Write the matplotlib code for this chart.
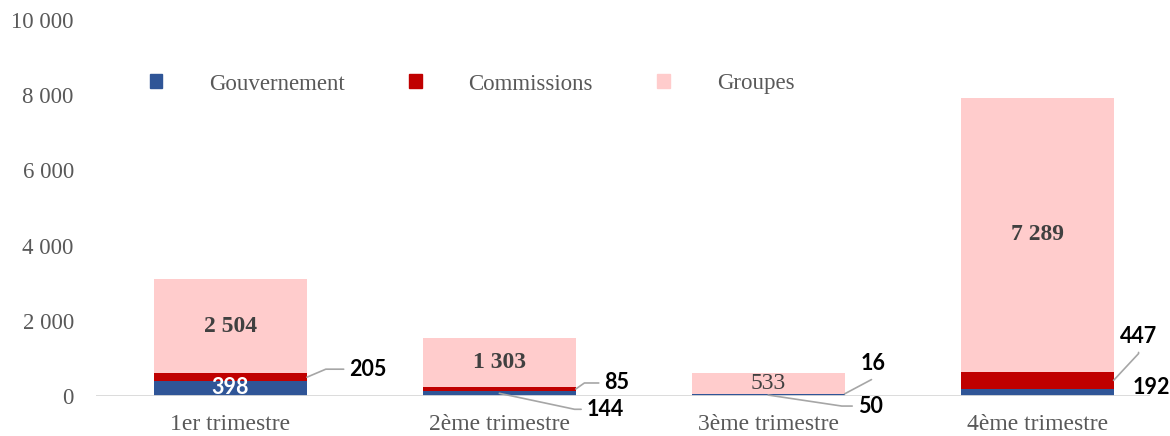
import matplotlib.pyplot as plt
from matplotlib.patches import Patch

categories = ["1er trimestre", "2ème trimestre", "3ème trimestre", "4ème trimestre"]
gouvernement = [398, 144, 50, 192]
commissions = [205, 85, 16, 447]
groupes = [2504, 1303, 533, 7289]
yticks = [0, 2000, 4000, 6000, 8000, 10000]

c_gouv = "#2F5597"
c_comm = "#C00000"
c_grp = "#FFCCCC"
serif = "Liberation Serif"
sans = "Lato"


def fmt(v):
    return f"{v:,}".replace(",", " ")


fig = plt.figure(figsize=(11.7, 4.36), dpi=100)
ax = fig.add_axes([96 / 1170, 40 / 436, (1150 - 96) / 1170, 376 / 436])

x = list(range(len(categories)))
w = 0.569
base2 = [a + b for a, b in zip(gouvernement, commissions)]
ax.bar(x, gouvernement, w, color=c_gouv, zorder=2)
ax.bar(x, commissions, w, bottom=gouvernement, color=c_comm, zorder=2)
ax.bar(x, groupes, w, bottom=base2, color=c_grp, zorder=2)

ax.set_xlim(-0.5, 3.42)
ax.set_ylim(0, 10000)
for s in ["top", "right", "left", "bottom"]:
    ax.spines[s].set_visible(False)
ax.axhline(0, color="#D9D9D9", lw=1.3, zorder=3)
ax.set_yticks(yticks)
ax.set_yticklabels([fmt(v) for v in yticks], fontfamily=serif, fontsize=16.5, color="#595959")
ax.set_xticks(x)
ax.set_xticklabels(categories, fontfamily=serif, fontsize=17, color="#595959")
ax.tick_params(length=0, axis="y", pad=16)
ax.tick_params(length=0, axis="x", pad=13)

# labels for Groupes inside the bars
for i, v in enumerate(groupes):
    ax.text(i, base2[i] + v / 2, fmt(v), ha="center", va="center", fontfamily=serif,
            fontsize=17, fontweight="normal" if v < 1000 else "bold", color="#404040", zorder=4)

# 398 inside blue bar
ax.text(0, gouvernement[0] / 2 + 20, fmt(gouvernement[0]), ha="center", va="center",
        fontfamily=sans, fontsize=15.5, fontweight="bold", color="white", zorder=2.5)

lead = dict(arrowstyle="-", color="#A6A6A6", lw=1.2, shrinkB=0)

# (text, xy, offset px, connection)
callouts = [
    (commissions[0], (0 + w / 2, gouvernement[0] + commissions[0] / 2), (61, 8), "angle,angleA=0,angleB=23,rad=0"),
    (commissions[1], (1 + w / 2, gouvernement[1] + commissions[1] / 2), (41, 6), "angle,angleA=0,angleB=35,rad=0"),
    (gouvernement[1], (1, gouvernement[1] / 2), (106, -16), "angle,angleA=0,angleB=-12,rad=0"),
    (commissions[2], (2 + w / 2, gouvernement[2] + commissions[2] / 2), (28, 30), "angle,angleA=90,angleB=28,rad=0"),
    (gouvernement[2], (2, gouvernement[2] / 2), (102, -11), "angle,angleA=0,angleB=-8.5,rad=0"),
    (commissions[3], (3 + w / 2, gouvernement[3] + commissions[3] / 2), (25, 44), "angle,angleA=90,angleB=47,rad=0"),
]
for val, xy, off, cs in callouts:
    ax.annotate(fmt(val), xy=xy, xytext=off, textcoords="offset pixels", ha="center", va="center",
                fontfamily=sans, fontsize=15.5, fontweight="bold", color="black",
                arrowprops=dict(lead, connectionstyle=cs), annotation_clip=False)

ax.annotate(fmt(gouvernement[3]), xy=(3 + w / 2, gouvernement[3] / 2), xytext=(38, 5),
            textcoords="offset pixels", ha="center", va="center", fontfamily=sans,
            fontsize=15.5, fontweight="bold", color="black", annotation_clip=False)

handles = [Patch(color=c_gouv), Patch(color=c_comm), Patch(color=c_grp)]
leg = ax.legend(handles, ["Gouvernement", "Commissions", "Groupes"], ncol=3, loc="center",
                bbox_to_anchor=(472 / 1170, 1 - 84 / 436), bbox_transform=fig.transFigure,
                frameon=False, handlelength=0.55, handleheight=0.55, handletextpad=2.05,
                columnspacing=2.8, prop={"family": serif, "size": 16.5})
for t in leg.get_texts():
    t.set_color("#595959")

fig.savefig("out.png", dpi=100)
